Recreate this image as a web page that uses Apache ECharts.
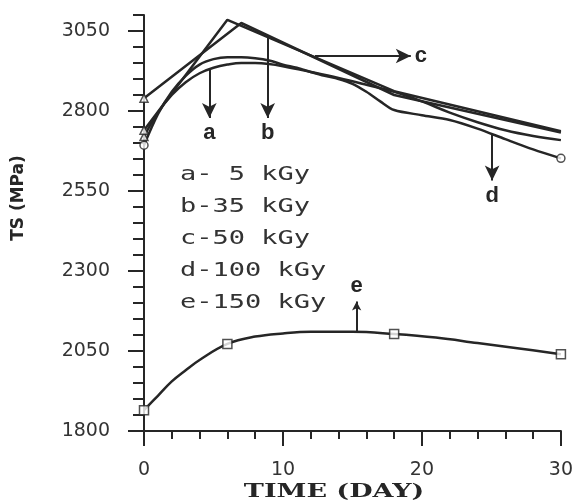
<!DOCTYPE html>
<html>
<head>
<meta charset="utf-8">
<script src="https://cdn.jsdelivr.net/npm/echarts@6/dist/echarts.min.js"></script>
<style>
  html, body { margin: 0; padding: 0; background: #fff; }
  #chart { width: 576px; height: 503px; }
</style>
</head>
<body>
<div id="chart"></div>
<script>
// tensile strength (MPa) vs storage time (day)
var daysA = [0, 1, 2, 3, 4, 5, 6, 7, 8, 9, 10, 12, 14, 16, 18, 20, 22, 24, 26, 28, 30];
var tsA = [2720, 2795, 2850, 2890, 2918, 2935, 2945, 2950, 2950, 2947, 2940, 2922, 2903, 2882, 2860, 2830, 2795, 2765, 2740, 2722, 2709];

var daysB = [0, 6, 18, 30];
var tsB = [2740, 3085, 2862, 2737];

var daysC = [0, 7, 18, 30];
var tsC = [2840, 3075, 2850, 2733];

var daysD = [0, 1, 2, 3, 4, 5, 6, 7, 8, 9, 10, 11, 12, 13, 14, 15, 16, 17, 18, 20, 22, 24, 26, 28, 30];
var tsD = [2693, 2790, 2860, 2910, 2945, 2962, 2968, 2968, 2965, 2958, 2945, 2935, 2922, 2910, 2900, 2885, 2860, 2830, 2803, 2787, 2772, 2745, 2712, 2680, 2652];

var daysE = [0, 1, 2, 3, 4, 6, 8, 10, 12, 15, 18, 21, 24, 27, 30];
var tsE = [1865, 1910, 1955, 1990, 2022, 2072, 2095, 2105, 2110, 2110, 2103, 2092, 2075, 2058, 2040];
var measuredDaysE = [0, 6, 18, 30];

var doseLabels = ['a- 5 kGy', 'b-35 kGy', 'c-50 kGy', 'd-100 kGy', 'e-150 kGy'];
var yMajorTicks = [1800, 2050, 2300, 2550, 2800, 3050];

// arrows pointing at curves: [day, ts] -> [day, ts]
var arrowA = [[4.7, 2928], [4.7, 2778]];
var arrowB = [[8.9, 3028], [8.9, 2778]];
var arrowC = [[12.3, 2972], [19.2, 2972]];
var arrowD = [[25.05, 2728], [25.05, 2583]];
var arrowE = [[15.3, 2108], [15.3, 2205]];

var ink = '#262626';
var textInk = '#333';

var pairs = function (xs, ys) {
    return xs.map(function (x, i) { return [x, ys[i]]; });
};

var arrow = function (pts, name, size) {
    return {
        silent: true,
        animation: false,
        symbol: ['none', 'arrow'],
        symbolSize: size || [11, 15],
        lineStyle: { color: ink, width: 2, type: 'solid' },
        label: {
            show: true,
            position: 'end',
            formatter: name,
            color: ink,
            fontSize: 22,
            fontWeight: 'bold',
            fontFamily: '"Liberation Sans", Arial, sans-serif',
            distance: 4
        },
        emphasis: { disabled: true },
        data: [[{ coord: pts[0] }, { coord: pts[1] }]]
    };
};

var lineSeries = function (xs, ys, smooth, mark) {
    return {
        type: 'line',
        data: pairs(xs, ys),
        smooth: smooth,
        showSymbol: false,
        lineStyle: { color: ink, width: 2.5 },
        itemStyle: { color: ink },
        markLine: mark,
        animation: false,
        z: 3
    };
};

var markerSeries = function (data, symbol, size) {
    return {
        type: 'scatter',
        data: data,
        symbol: symbol,
        symbolSize: size,
        itemStyle: { color: '#fff', borderColor: ink, borderWidth: 1.5 },
        animation: false,
        z: 5
    };
};

var myChart = echarts.init(document.getElementById('chart'));

var option = {
    backgroundColor: '#fff',
    grid: { left: 144, right: 14, top: 15, bottom: 72 },
    xAxis: {
        type: 'value',
        min: 0,
        max: 30,
        interval: 10,
        axisLine: { lineStyle: { color: ink, width: 2 } },
        axisTick: { show: true, inside: false, length: 15, lineStyle: { color: ink, width: 2 } },
        minorTick: { show: true, splitNumber: 5, length: 8, lineStyle: { color: ink, width: 2 } },
        splitLine: { show: false },
        axisLabel: {
            margin: 30,
            color: textInk,
            fontSize: 19,
            fontFamily: '"DejaVu Sans", sans-serif'
        }
    },
    yAxis: [
        {
            type: 'value',
            min: 1800,
            max: 3100,
            interval: 50,
            axisLine: { show: true, lineStyle: { color: ink, width: 2 } },
            axisTick: { show: true, inside: false, length: 11, lineStyle: { color: ink, width: 2 } },
            splitLine: { show: false },
            axisLabel: {
                margin: 34,
                color: textInk,
                fontSize: 19,
                fontFamily: '"DejaVu Sans", sans-serif',
                formatter: function (v) {
                    return yMajorTicks.indexOf(v) >= 0 ? String(v) : '';
                }
            }
        },
        {
            type: 'value',
            position: 'left',
            offset: 0,
            min: 1800,
            max: 3100,
            interval: 250,
            axisLine: { show: false },
            axisTick: { show: true, inside: false, length: 16, customValues: yMajorTicks, lineStyle: { color: ink, width: 2 } },
            axisLabel: { show: false },
            splitLine: { show: false }
        }
    ],
    series: [
        lineSeries(daysA, tsA, 0.4, arrow(arrowA, 'a')),
        lineSeries(daysB, tsB, false, arrow(arrowB, 'b')),
        lineSeries(daysC, tsC, false, arrow(arrowC, 'c')),
        lineSeries(daysD, tsD, 0.3, arrow(arrowD, 'd')),
        lineSeries(daysE, tsE, 0.4, arrow(arrowE, 'e', [7, 9])),
        markerSeries(measuredDaysE.map(function (d) { return [d, tsE[daysE.indexOf(d)]]; }), 'rect', 9),
        markerSeries([[daysD[0], tsD[0]], [daysD[daysD.length - 1], tsD[tsD.length - 1]]], 'circle', 8),
        markerSeries([[daysA[0], tsA[0]], [daysB[0], tsB[0]], [daysC[0], tsC[0]]], 'triangle', 8)
    ],
    graphic: doseLabels.map(function (t, i) {
        return {
            type: 'text',
            x: 180,
            y: 175 + i * 32,
            scaleX: 1.35,
            silent: true,
            style: {
                text: t,
                fill: textInk,
                font: '20px "DejaVu Sans Mono", monospace',
                verticalAlign: 'middle'
            }
        };
    }).concat([
        {
            type: 'text',
            x: 19,
            y: 198,
            rotation: Math.PI / 2,
            silent: true,
            style: {
                text: 'TS (MPa)',
                fill: ink,
                font: 'bold 17px "DejaVu Sans", sans-serif',
                align: 'center',
                verticalAlign: 'middle'
            }
        },
        {
            type: 'text',
            x: 334,
            y: 492,
            scaleX: 1.5,
            silent: true,
            style: {
                text: 'TIME (DAY)',
                fill: ink,
                font: 'bold 18px "DejaVu Serif", serif',
                align: 'center',
                verticalAlign: 'middle'
            }
        }
    ])
};

myChart.setOption(option);
window.addEventListener('resize', function () {
    myChart.resize();
});
</script>
</body>
</html>
